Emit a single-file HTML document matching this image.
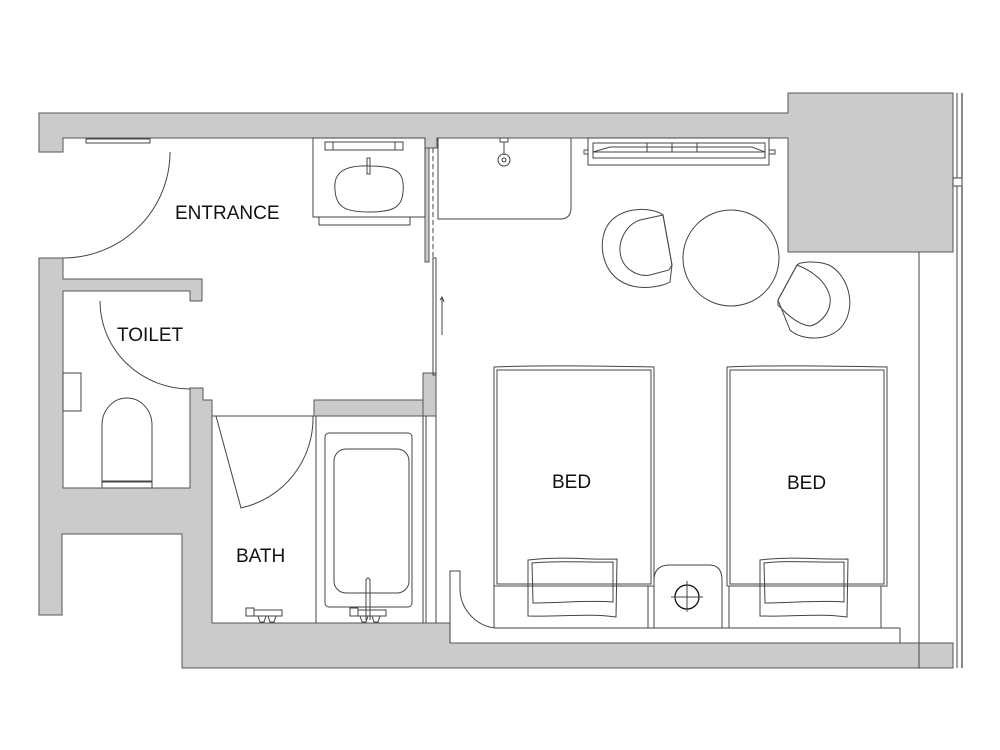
<!DOCTYPE html>
<html><head><meta charset="utf-8"><style>
html,body{margin:0;padding:0;background:#fff;}
svg{display:block;}
text{font-family:"Liberation Sans",sans-serif;fill:#111;}
</style></head><body>
<svg width="1000" height="750" viewBox="0 0 1000 750" xmlns="http://www.w3.org/2000/svg">
<g fill="#cbcbcb" stroke="#555" stroke-width="1">
<path d="M39,113 L788,113 L788,93 L953,93 L953,252 L788,252 L788,138 L437,138 L437,148 L425,148 L425,138 L63,138 L63,152 L39,152 Z"/>
<path d="M39,258 L63,258 L63,279 L202,279 L202,301 L190,301 L190,291 L63,291 L63,488 L190,488 L190,388 L203,388 L203,400 L212,400 L212,623 L450,623 L450,643 L953,643 L953,668 L182,668 L182,534 L62,534 L62,615 L39,615 Z"/>
<rect x="314" y="400" width="122" height="16"/>
<rect x="423" y="373" width="13" height="43"/>
<rect x="425" y="148" width="4" height="114"/>
</g>
<g fill="none" stroke="#444" stroke-width="1">
<line x1="957" y1="93" x2="957" y2="668"/>
<line x1="962" y1="93" x2="962" y2="668" stroke="#111"/>
<rect x="953" y="178" width="9" height="8" fill="#fff"/>
<line x1="919" y1="252" x2="919" y2="668"/>
<rect x="86" y="139" width="64" height="4"/>
<path d="M170,152 A107,106 0 0 1 63,258"/>
<path d="M100,301 A90,88 0 0 0 190,389"/>
<rect x="63" y="373" width="18" height="38"/>
<path d="M102,482 L102,425 A25,27 0 0 1 152,425 L152,482 Z"/>
<rect x="102" y="481" width="50" height="7"/>
<rect x="313" y="138" width="112" height="79"/>
<rect x="325" y="142" width="78" height="8"/>
<line x1="333" y1="142" x2="333" y2="150"/><line x1="395" y1="142" x2="395" y2="150"/>
<path d="M335,190 C333,172 345,165 370,166 C397,166 405,172 403,192 C402,208 392,212 369,212 C345,212 336,207 335,190 Z"/>
<rect x="367" y="158" width="3" height="16"/>
<path d="M319,217 L319,225 L410,225 L410,217"/>
<line x1="433" y1="148" x2="433" y2="258" stroke-dasharray="5,3"/>
<rect x="433" y="258" width="3" height="117"/>
<path d="M442,297 L442,335 M440,300 L442,297 L444,302"/>
<path d="M438,138 L438,219 L560,219 Q571,219 571,208 L571,138"/>
<rect x="500" y="138" width="8" height="4"/>
<line x1="504" y1="142" x2="504" y2="155"/>
<circle cx="504" cy="160" r="6"/><circle cx="504" cy="160" r="2"/>
<rect x="588" y="138" width="181" height="27"/>
<rect x="584" y="150" width="4" height="4"/><rect x="769" y="150" width="6" height="4"/>
<path d="M593,143 L765,143 L765,158 L593,158 Z"/>
<path d="M593,152 L610,147 L752,147 L765,152 Z"/>
<line x1="647" y1="143" x2="647" y2="152"/><line x1="672" y1="143" x2="672" y2="152"/><line x1="697" y1="143" x2="697" y2="152"/>
<circle cx="731" cy="258" r="48"/>
<path d="M663,215 C655,208 625,205 610,222 C597,237 600,270 622,282 C640,292 663,286 670,282 L672,265 Z"/>
<path d="M663,215 L640,220 C625,225 617,243 621,257 C625,271 640,277 650,275 L669,270 L672,265 Z"/>
<path d="M790,330 C800,340 830,343 843,325 C857,305 848,275 829,265 C816,260 800,262 797,265 L778,300 Z"/>
<path d="M797,265 C810,270 826,280 830,297 C832,313 819,324 810,326 C800,325 790,318 778,305 L778,300 Z"/>
<path d="M494,367 C540,365 600,366 654,367 L654,586 C600,586 540,586 494,586 Z"/>
<rect x="497" y="370" width="154" height="214"/>
<line x1="494" y1="586" x2="494" y2="628"/><line x1="648" y1="586" x2="648" y2="628"/>
<path d="M528,560 C560,556 590,560 617,559 L616,617 C590,613 560,617 528,616 Z"/>
<path d="M532,563 C560,560 590,563 613,562 L613,602 C590,600 560,603 533,603 Z"/>
<path d="M727,367 C770,365 830,366 887,367 L887,586 C830,586 770,586 727,586 Z"/>
<rect x="730" y="370" width="154" height="214"/>
<line x1="729" y1="586" x2="729" y2="628"/><line x1="881" y1="586" x2="881" y2="628"/>
<path d="M760,560 C790,556 820,560 848,559 L847,617 C820,613 790,617 760,616 Z"/>
<path d="M764,563 C790,560 820,563 844,562 L844,602 C820,600 790,603 765,603 Z"/>
<path d="M654,628 L654,580 Q654,565 670,565 L709,565 Q722,565 722,580 L722,628"/>
<circle cx="687" cy="597" r="12" stroke="#111" stroke-width="1.3"/>
<line x1="671" y1="597" x2="703" y2="597"/><line x1="687" y1="581" x2="687" y2="612"/>
<line x1="495" y1="628" x2="900" y2="628"/>
<line x1="900" y1="628" x2="900" y2="643"/>
<path d="M450,643 L450,571 L460,571 L460,588 A40,40 0 0 0 495,628"/>
<path d="M212,416 L314,416"/>
<path d="M216,416 L241,508 A92,92 0 0 0 313,416"/>
<line x1="316" y1="416" x2="316" y2="623"/>
<rect x="325" y="433" width="87" height="174" rx="4"/>
<rect x="334" y="449" width="75" height="144" rx="12"/>
<path d="M366,620 L366,580 Q368,576 370,580 L370,620"/>
<line x1="423" y1="416" x2="423" y2="623"/><line x1="426" y1="416" x2="426" y2="623"/><line x1="436" y1="416" x2="436" y2="623"/>
<rect x="246" y="608" width="8" height="8"/><rect x="254" y="610" width="28" height="6"/>
<path d="M258,616 l2,6 h4 l2,-6 M268,616 l2,6 h4 l2,-6"/>
<rect x="350" y="608" width="8" height="8"/><rect x="358" y="610" width="28" height="6"/>
<path d="M360,616 l2,6 h4 l2,-6 M372,616 l2,6 h4 l2,-6"/>
</g>
<text x="175" y="219" font-size="19">ENTRANCE</text>
<text x="117" y="341" font-size="19">TOILET</text>
<text x="236" y="562" font-size="19">BATH</text>
<text x="552" y="488" font-size="19">BED</text>
<text x="787" y="489" font-size="19">BED</text>
</svg>
</body></html>
